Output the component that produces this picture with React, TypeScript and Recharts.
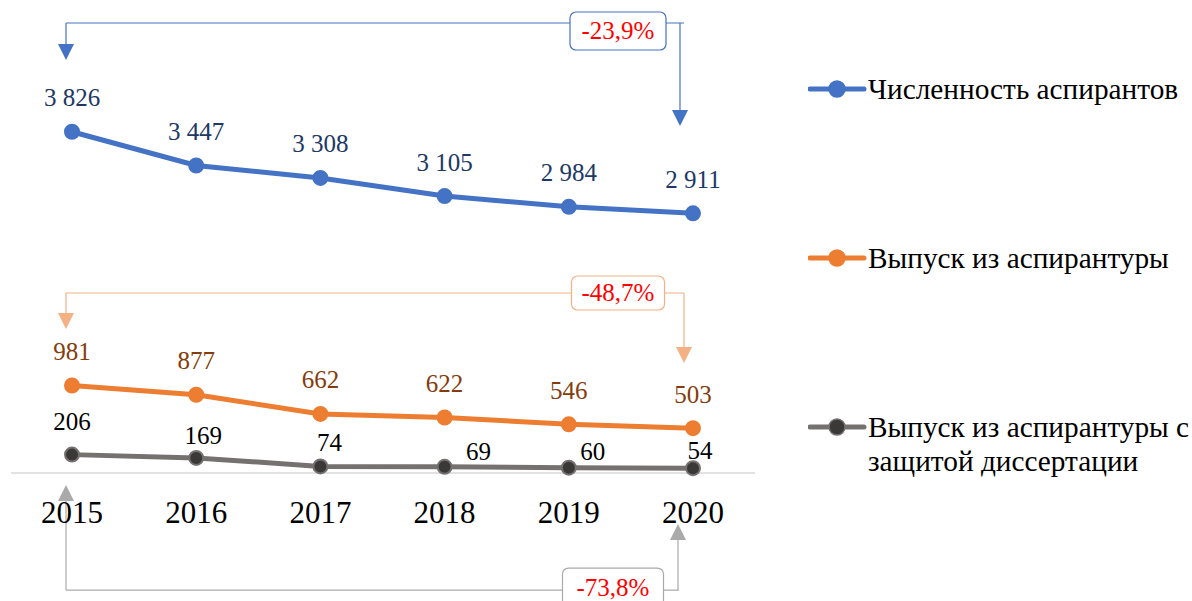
import React from "react";
import {
  LineChart,
  Line,
  XAxis,
  YAxis,
  LabelList,
  Legend,
  ReferenceLine,
  ReferenceDot,
} from "recharts";

const years = ["2015", "2016", "2017", "2018", "2019", "2020"];
const students = [3826, 3447, 3308, 3105, 2984, 2911];
const graduates = [981, 877, 662, 622, 546, 503];
const graduatesDefended = [206, 169, 74, 69, 60, 54];

const seriesNames = [
  "Численность аспирантов",
  "Выпуск из аспирантуры",
  "Выпуск из аспирантуры с защитой диссертации",
];
const changeLabels = ["-23,9%", "-48,7%", "-73,8%"];

const data = years.map((year, i) => ({
  year,
  students: students[i],
  graduates: graduates[i],
  defended: graduatesDefended[i],
}));

const FONT = "'Liberation Serif', 'Times New Roman', serif";
const BLUE = "#4472c4";
const ORANGE = "#ed7d31";
const GRAY = "#767171";

const fmt = (v: number) => {
  const s = String(v);
  return s.length > 3 ? s.slice(0, s.length - 3) + "\u00a0" + s.slice(-3) : s;
};

// bracket annotations (data-space levels of the connector lines)
const brackets = [
  { label: changeLabels[0], color: BLUE, level: 5045, leftTip: 4630, rightTip: 3890, leftDx: -6, rightDx: -13, endDx: -9, boxDx: -75, boxDy: 8, w: 96, h: 38 },
  { label: changeLabels[1], color: "#f4b183", level: 2018, leftTip: 1614, rightTip: 1233, leftDx: -6, rightDx: -9, endDx: -9, boxDx: -75, boxDy: 0, w: 93, h: 34 },
  { label: changeLabels[2], color: "#aaaaaa", level: -1312, leftTip: -135, rightTip: -572, leftDx: -6, rightDx: -15, endDx: -14, boxDx: -80, boxDy: -3, w: 101, h: 38 },
];

const arrowShape = (dx: number, color: string) => (p: any) => {
  const x = p.x1 + dx;
  const down = p.y2 > p.y1;
  const base = down ? p.y2 - 16 : p.y2 + 16;
  return (
    <g>
      <line x1={x} y1={p.y1} x2={x} y2={base} stroke={color} strokeWidth={1.2} />
      <polygon points={`${x - 8},${base} ${x + 8},${base} ${x},${p.y2}`} fill={color} />
    </g>
  );
};

const hLineShape = (dx0: number, dx1: number, color: string) => (p: any) => (
  <line x1={p.x1 + dx0} y1={p.y1} x2={p.x2 + dx1} y2={p.y2} stroke={color} strokeWidth={1.2} />
);

const boxShape = (b: any) => (p: any) => {
  const cx = p.cx + b.boxDx;
  const cy = p.cy + b.boxDy;
  return (
    <g>
      <rect x={cx - b.w / 2} y={cy - b.h / 2} width={b.w} height={b.h} rx={6} fill="#fff" stroke={b.color} strokeWidth={1.2} />
      <text x={cx} y={cy} textAnchor="middle" dominantBaseline="central" fill="#ff0000" fontSize={25} fontFamily={FONT}>
        {b.label}
      </text>
    </g>
  );
};

const renderBracket = (b: any, i: number) => [
  <ReferenceLine
    key={`h${i}`}
    ifOverflow="visible"
    segment={[{ x: years[0], y: b.level }, { x: years[5], y: b.level }]}
    shape={hLineShape(b.leftDx, b.endDx, b.color)}
  />,
  <ReferenceLine
    key={`l${i}`}
    ifOverflow="visible"
    segment={[{ x: years[0], y: b.level }, { x: years[0], y: b.leftTip }]}
    shape={arrowShape(b.leftDx, b.color)}
  />,
  <ReferenceLine
    key={`r${i}`}
    ifOverflow="visible"
    segment={[{ x: years[5], y: b.level }, { x: years[5], y: b.rightTip }]}
    shape={arrowShape(b.rightDx, b.color)}
  />,
  <ReferenceDot key={`b${i}`} ifOverflow="visible" x={years[5]} y={b.level} shape={boxShape(b)} />,
];

const topLabel = (color: string) => (p: any) => (
  <text x={p.x} y={p.y - 34} textAnchor="middle" dominantBaseline="central" fill={color} fontSize={25} fontFamily={FONT}>
    {fmt(p.value)}
  </text>
);

const grayOffsets = [[0, -33], [7, -22], [9, -24], [34, -15], [24, -16], [7, -18]];
const grayLabel = (p: any) => {
  const [dx, dy] = grayOffsets[p.index] || [0, -30];
  return (
    <text x={p.x + dx} y={p.y + dy} textAnchor="middle" dominantBaseline="central" fill="#000" fontSize={25} fontFamily={FONT}>
      {fmt(p.value)}
    </text>
  );
};

const YearTick = (p: any) => (
  <text x={p.x} y={p.y} textAnchor="middle" dominantBaseline="central" fill="#000" fontSize={31} fontFamily={FONT}>
    {p.payload.value}
  </text>
);

const legendItems = [
  { name: seriesNames[0], color: BLUE, fill: BLUE },
  { name: seriesNames[1], color: ORANGE, fill: ORANGE },
  { name: seriesNames[2], color: GRAY, fill: "#3b3838" },
];

const LegendContent = () => (
  <div style={{ width: 384, fontFamily: FONT }}>
    {legendItems.map((it, i) => (
      <div key={i} style={{ display: "flex", alignItems: "flex-start", height: 169 }}>
        <svg width={60} height={36} style={{ flex: "none" }}>
          <line x1={2} y1={18} x2={56} y2={18} stroke={it.color} strokeWidth={5} strokeLinecap="round" />
          <circle cx={29} cy={18} r={8} fill={it.fill} stroke={it.color} strokeWidth={1.5} />
        </svg>
        <div style={{ fontSize: 29.3, lineHeight: "34px", color: "#000", width: 326, marginTop: 1, whiteSpace: "normal" }}>{it.name}</div>
      </div>
    ))}
  </div>
);

export default function App() {
  return (
    <div style={{ position: "absolute", left: 0, top: 0, background: "#fff" }}>
      <LineChart width={1192} height={601} data={data} margin={{ top: 27, right: 53, bottom: 68, left: 11 }}>
        <XAxis
          dataKey="year"
          height={60}
          padding={{ left: 61, right: 62 }}
          axisLine={{ stroke: "#d9d9d9", strokeWidth: 1.5 }}
          tickLine={false}
          tickSize={0}
          tickMargin={39}
          tick={<YearTick />}
          interval={0}
        />
        <YAxis hide domain={[0, 5000]} />
        <Legend
          layout="vertical"
          align="right"
          verticalAlign="top"
          content={<LegendContent />}
          wrapperStyle={{ left: 808, top: 71, width: 384 }}
        />
        {brackets.map(renderBracket)}
        <Line
          dataKey="students"
          name={seriesNames[0]}
          stroke={BLUE}
          strokeWidth={5}
          dot={{ r: 7, fill: BLUE, stroke: BLUE, strokeWidth: 2 }}
          isAnimationActive={false}
        >
          <LabelList dataKey="students" content={topLabel("#203864")} />
        </Line>
        <Line
          dataKey="graduates"
          name={seriesNames[1]}
          stroke={ORANGE}
          strokeWidth={5}
          dot={{ r: 7, fill: ORANGE, stroke: ORANGE, strokeWidth: 2 }}
          isAnimationActive={false}
        >
          <LabelList dataKey="graduates" content={topLabel("#843c0c")} />
        </Line>
        <Line
          dataKey="defended"
          name={seriesNames[2]}
          stroke={GRAY}
          strokeWidth={5}
          dot={{ r: 7, fill: "#3b3838", stroke: GRAY, strokeWidth: 2 }}
          isAnimationActive={false}
        >
          <LabelList dataKey="defended" content={grayLabel} />
        </Line>
      </LineChart>
    </div>
  );
}
